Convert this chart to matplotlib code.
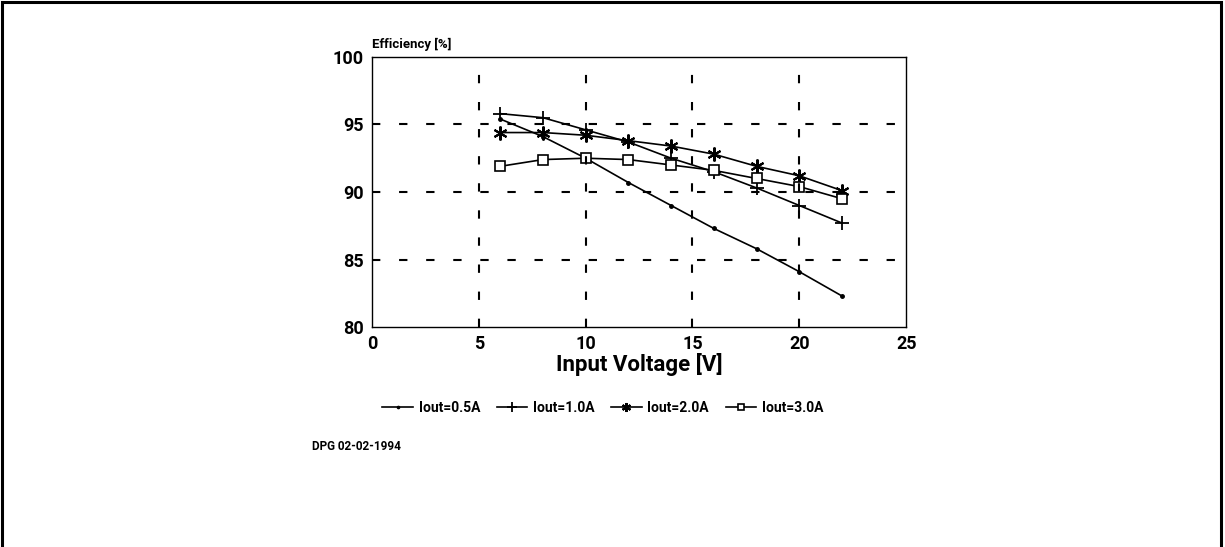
import numpy as np
import matplotlib.pyplot as plt
from matplotlib.patches import Rectangle

# input voltage [V]
voltage = [6, 8, 10, 12, 14, 16, 18, 20, 22]

# efficiency [%] per output current
eff_05 = [95.4, 94.1, 92.5, 90.7, 89.0, 87.3, 85.8, 84.1, 82.3]
eff_10 = [95.8, 95.5, 94.6, 93.7, 92.5, 91.5, 90.3, 89.0, 87.7]
eff_20 = [94.4, 94.4, 94.2, 93.8, 93.4, 92.8, 91.9, 91.2, 90.1]
eff_30 = [91.9, 92.4, 92.5, 92.4, 92.0, 91.6, 91.0, 90.4, 89.5]

labels = ["Iout=0.5A", "Iout=1.0A", "Iout=2.0A", "Iout=3.0A"]
xticks = [0, 5, 10, 15, 20, 25]
yticks = [80, 85, 90, 95, 100]

font = dict(family=["Roboto", "DejaVu Sans"], weight="bold")

fig = plt.figure(figsize=(12.25, 5.47), dpi=100)
fig.patches.append(Rectangle((0.002, -0.01), 0.995, 1.006, transform=fig.transFigure,
                             fill=False, edgecolor="black", linewidth=2.2))

ax = fig.add_axes([0.3037, 0.402, 0.436, 0.494])

ax.plot(voltage, eff_05, "-", color="black", lw=1.2, marker="o", ms=2.5, label=labels[0])
ax.plot(voltage, eff_10, "-", color="black", lw=1.2, marker="+", ms=10, mew=1.3, label=labels[1])
ax.plot(voltage, eff_20, "-", color="black", lw=1.2, marker=(6, 2, 0), ms=10, mew=1.5, label=labels[2])
ax.plot(voltage, eff_30, "-", color="black", lw=1.2, marker="s", ms=7, mfc="white", mew=1.2, label=labels[3])

ax.set_xlim(0, 25)
ax.set_ylim(80, 100)
ax.set_xticks(xticks)
ax.set_yticks(yticks)
ax.set_xticklabels([str(t) for t in xticks], fontsize=13, **font)
ax.set_yticklabels([str(t) for t in yticks], fontsize=13, **font)
ax.tick_params(length=0, pad=6)
for s in ax.spines.values():
    s.set_linewidth(1.0)

for x in xticks[1:-1]:
    ax.axvline(x, color="black", lw=1.5, ls=(0, (4, 9)))
for y in yticks[1:-1]:
    ax.axhline(y, color="black", lw=1.5, ls=(0, (4, 9)))

ax.set_xlabel("Input Voltage [V]", fontsize=16, labelpad=0, **font)
ax.text(0, 100.4, "Efficiency [%]", fontsize=9.5, ha="left", va="bottom", **font)

leg = fig.legend(loc="center left", bbox_to_anchor=(0.302, 1 - 408 / 547), ncol=4,
                 frameon=False, handlelength=2.2, handletextpad=0.4, columnspacing=1.2,
                 markerscale=0.65, prop=dict(size=10, **font))

fig.text(312 / 1225, 1 - 447 / 547, "DPG 02-02-1994", fontsize=8.5, va="center", **font)

fig.savefig("out.png", dpi=100)
